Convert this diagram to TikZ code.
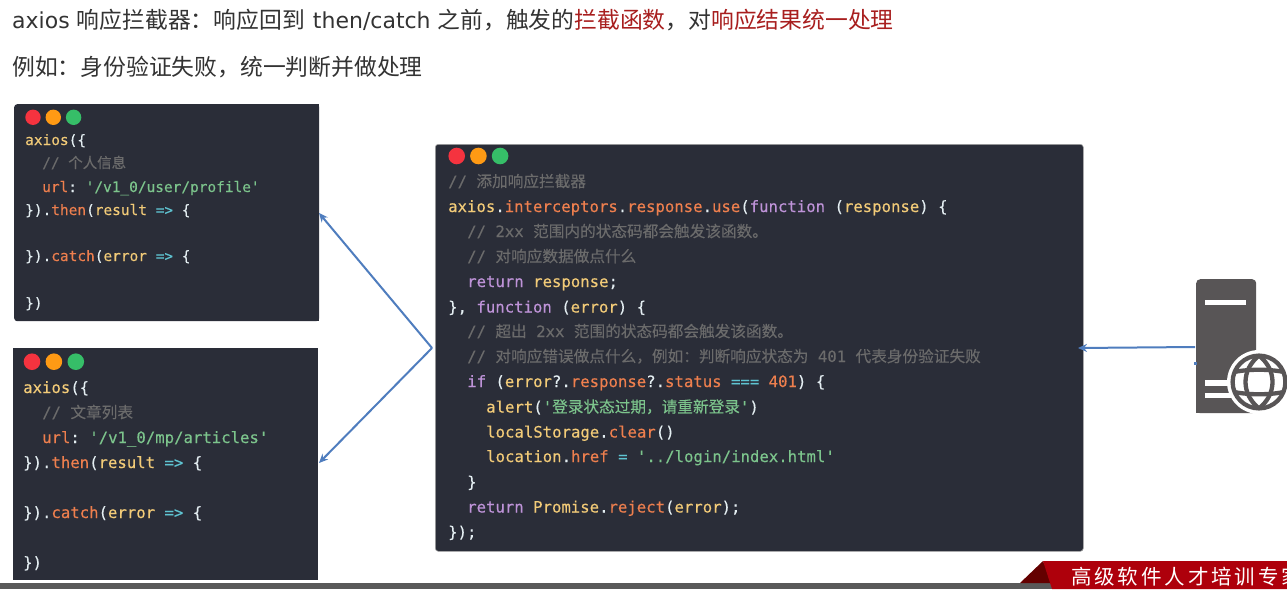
\documentclass[tikz,border=0pt]{standalone}
\usepackage{fontspec}
\usetikzlibrary{arrows.meta}
\setmonofont[FakeBold=0.25]{DejaVu Sans Mono}
\newfontfamily\cjk{Noto Sans CJK SC}
\newfontfamily\cjkcode[FakeBold=0.2]{Noto Sans CJK SC}
\newfontfamily\cjkwide[LetterSpace=14]{Noto Sans CJK SC}
\newfontfamily\headlatin{DejaVu Sans}
\definecolor{codebg}{HTML}{2A2D38}
\definecolor{dotred}{HTML}{F5333F}
\definecolor{dotorange}{HTML}{FF9A14}
\definecolor{dotgreen}{HTML}{36BE68}
\definecolor{cyellow}{HTML}{F2CB78}
\definecolor{corange}{HTML}{EE7F4E}
\definecolor{cpurple}{HTML}{BE93D8}
\definecolor{cgreen}{HTML}{7CC48C}
\definecolor{cgrey}{HTML}{6B6B6B}
\definecolor{ccyan}{HTML}{5FC4D2}
\definecolor{cwhite}{HTML}{E4EEF2}
\definecolor{headred}{HTML}{A81E1E}
\definecolor{headtext}{HTML}{333333}
\definecolor{arrowblue}{HTML}{4F7DBE}
\definecolor{servergrey}{HTML}{585556}
\definecolor{bannerred}{HTML}{AE000B}
\definecolor{bannerdark}{HTML}{640000}
\newcommand\cY[1]{\textcolor{cyellow}{#1}}
\newcommand\cO[1]{\textcolor{corange}{#1}}
\newcommand\cP[1]{\textcolor{cpurple}{#1}}
\newcommand\cG[1]{\textcolor{cgreen}{#1}}
\newcommand\cN[1]{\textcolor{cgrey}{#1}}
\newcommand\cC[1]{\textcolor{ccyan}{#1}}
\newcommand\cW[1]{\textcolor{cwhite}{#1}}
\newcommand\hR[1]{\textcolor{headred}{#1}}
\newcommand\hL[1]{{\headlatin\fontsize{22}{22}\selectfont #1}}
\tikzset{
	headline/.style={anchor=base west,inner sep=0pt,text=headtext,font=\cjk\fontsize{22.8}{22.8}\selectfont},
	codebox/.style={anchor=north west,inner sep=0pt,fill=codebg,rounded corners=3pt},
	codeline/.style={anchor=base west,inner sep=0pt,text=cwhite},
	smallcode/.style={codeline,font=\ttfamily\fontsize{14.45}{14.45}\selectfont},
	largecode/.style={codeline,font=\ttfamily\fontsize{15.65}{15.65}\selectfont},
	link/.style={-{Stealth[length=9pt,width=8pt]},draw=arrowblue,line width=2pt},
	globeline/.style={servergrey,line width=4.3pt},
}
\begin{document}
\begin{tikzpicture}[x=1pt,y=-1pt]
		\useasboundingbox (0,0) rectangle (1287,589);
		\clip (0,0) rectangle (1287,589);
		\fill[white] (0,0) rectangle (1287,589);
		% heading
		\node[headline] (title) at (12,28) {\hL{axios}\hspace{2pt} 响应拦截器：响应回到\hspace{3pt} \hL{then/catch}\hspace{2pt} 之前，触发的\hR{拦截函数}，对\hR{响应结果统一处理}};
		\node[headline] (subtitle) at (12,75) {例如：身份验证失败，统一判断并做处理};
		% boxes
		\node[codebox,minimum width=305pt,minimum height=217pt] (profilebox) at (14,104) {};
		\fill[codebg] (profilebox.north) rectangle (profilebox.south east);
		\node[codebox,minimum width=305pt,minimum height=232pt,rounded corners=0pt] (articlebox) at (13,348) {};
		\node[codebox,minimum width=648pt,minimum height=407pt,draw=black!35,line width=0.6pt] (interceptbox) at (435,144) {};
		\foreach \bx/\by/\bs/\br in {33/117.3/20.3/7.7,32/361.7/21.9/8.3,456.7/156/21.7/8.3}{
			\fill[dotred] (\bx,\by) circle (\br);
			\fill[dotorange] (\bx+\bs,\by) circle (\br);
			\fill[dotgreen] (\bx+2*\bs,\by) circle (\br);
		}
		% profile request
		\node[smallcode] (p1) at (25,145) {\cY{axios}\cW{(\{}};
		\node[smallcode] (p2) at (42,168) {\cN{// {\cjkcode 个人信息}}};
		\node[smallcode] (p3) at (42,192) {\cO{url}\cW{:} \cG{'/v1\_0/user/profile'}};
		\node[smallcode] (p4) at (25,215) {\cW{\}).}\cO{then}\cW{(}\cY{result} \cC{=>} \cW{\{}};
		\node[smallcode] (p5) at (25,261) {\cW{\}).}\cO{catch}\cW{(}\cY{error} \cC{=>} \cW{\{}};
		\node[smallcode] (p6) at (25,308) {\cW{\})}};
		% article request
		\node[largecode] (a1) at (23,393) {\cY{axios}\cW{(\{}};
		\node[largecode] (a2) at (42,418) {\cN{// {\cjkcode 文章列表}}};
		\node[largecode] (a3) at (42,443) {\cO{url}\cW{:} \cG{'/v1\_0/mp/articles'}};
		\node[largecode] (a4) at (23,468) {\cW{\}).}\cO{then}\cW{(}\cY{result} \cC{=>} \cW{\{}};
		\node[largecode] (a5) at (23,518) {\cW{\}).}\cO{catch}\cW{(}\cY{error} \cC{=>} \cW{\{}};
		\node[largecode] (a6) at (23,568) {\cW{\})}};
		% interceptor
		\node[largecode] (i1) at (448,187) {\cN{// {\cjkcode 添加响应拦截器}}};
		\node[largecode] (i2) at (448,212) {\cY{axios}\cW{.}\cO{interceptors}\cW{.}\cO{response}\cW{.}\cO{use}\cW{(}\cP{function} \cW{(}\cY{response}\cW{) \{}};
		\node[largecode] (i3) at (467,237) {\cN{// 2xx {\cjkcode 范围内的状态码都会触发该函数。}}};
		\node[largecode] (i4) at (467,262) {\cN{// {\cjkcode 对响应数据做点什么}}};
		\node[largecode] (i5) at (467,287) {\cP{return} \cY{response}\cW{;}};
		\node[largecode] (i6) at (448,312.5) {\cW{\},} \cP{function} \cW{(}\cY{error}\cW{) \{}};
		\node[largecode] (i7) at (467,337) {\cN{// {\cjkcode 超出} 2xx {\cjkcode 范围的状态码都会触发该函数。}}};
		\node[largecode] (i8) at (467,362) {\cN{// {\cjkcode 对响应错误做点什么，例如：判断响应状态为} 401 {\cjkcode 代表身份验证失败}}};
		\node[largecode] (i9) at (467,387) {\cP{if} \cW{(}\cY{error}\cW{?.}\cO{response}\cW{?.}\cO{status} \cC{===} \cO{401}\cW{) \{}};
		\node[largecode] (i10) at (486,412.5) {\cY{alert}\cW{(}\cG{'{\cjkcode 登录状态过期，请重新登录}'}\cW{)}};
		\node[largecode] (i11) at (486,437.5) {\cY{localStorage}\cW{.}\cO{clear}\cW{()}};
		\node[largecode] (i12) at (486,462) {\cY{location}\cW{.}\cO{href} \cC{=} \cG{'../login/index.html'}};
		\node[largecode] (i13) at (467,487.5) {\cW{\}}};
		\node[largecode] (i14) at (467,512.5) {\cP{return} \cY{Promise}\cW{.}\cO{reject}\cW{(}\cY{error}\cW{);}};
		\node[largecode] (i15) at (448,537.5) {\cW{\});}};
		% server
		\node[anchor=north west,inner sep=0pt,fill=servergrey,rounded corners=4pt,minimum width=60pt,minimum height=134pt] (server) at (1196,279) {};
		\fill[servergrey] (1196,395) rectangle (1225,413);
		\fill[white] (1205,300) rectangle (1246,305);
		\fill[white] (1205,380) rectangle (1235,386);
		\fill[white] (1205,393) rectangle (1235,398);
		\fill[white] (1259,382) circle (32);
		\begin{scope}[shift={(1259,382)}]
			\draw[globeline] (0,0) circle (26.4);
			\draw[globeline] (0,-26.4) .. controls (-18,-12) and (-18,12) .. (0,26.4);
			\draw[globeline] (0,-26.4) .. controls (18,-12) and (18,12) .. (0,26.4);
			\draw[globeline] (-25,-10) .. controls (-10,-13) and (10,-13) .. (25,-10);
			\draw[globeline] (-25,10) .. controls (-10,13) and (10,13) .. (25,10);
		\end{scope}
		% arrows
		\coordinate (fork) at (432,348);
		\coordinate (profilein) at (319,213);
		\coordinate (articlein) at (319,463);
		\coordinate (serverout) at (1195,347);
		\coordinate (interceptin) at (1078,348);
		\draw[link] (fork) -- (profilein);
		\draw[link] (fork) -- (articlein);
		\draw[link] (serverout) -- (interceptin);
		\fill[arrowblue] (1194,362) rectangle (1197,365);
		% banner
		\node[anchor=north west,inner sep=0pt,fill=black!65,minimum width=1052pt,minimum height=6pt] (footbar) at (0,583) {};
		\fill[bannerdark] (1020,583) -- (1043,561) -- (1052,583) -- cycle;
		\fill[bannerred] (1043,561) -- (1287,561) -- (1287,589) -- (1052,589) -- cycle;
		\node[anchor=base west,inner sep=0pt,text=white,font=\cjkwide\fontsize{20.5}{20.5}\selectfont] (bannertext) at (1071,584) {高级软件人才培训专家};
\end{tikzpicture}
\end{document}
